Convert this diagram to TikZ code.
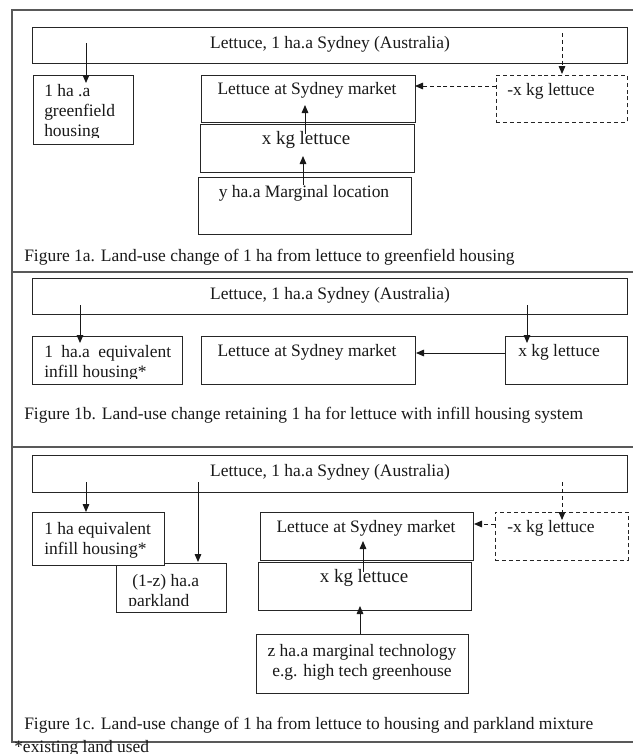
\documentclass[tikz,border=0pt]{standalone}
\usepackage{fontspec}
\setmainfont{Liberation Serif}
\usetikzlibrary{arrows.meta,fit}
\begin{document}
\begin{tikzpicture}[x=0.75pt,y=-0.75pt,
  box/.style={draw=black!85,line width=0.75pt,fill=white,inner sep=0pt},
  dbox/.style={box,dash pattern=on 3pt off 2.2pt},
  frm/.style={draw=black!65,line width=0.9pt},
  txt/.style={inner sep=0pt,font=\fontsize{13.1}{15}\selectfont,text=black!90},
  big/.style={txt,font=\fontsize{14.2}{17}\selectfont},
  arr/.style={-{Triangle[length=6pt,width=5pt]},line width=0.65pt,draw=black!90},
  darr/.style={arr,dash pattern=on 3pt off 2.2pt}]
\useasboundingbox (0,0) rectangle (633,754);

% frame
\draw[frm] (633,10) -- (12,10) -- (12,742) -- (633,742);
\draw[frm] (12,272) -- (633,272);
\draw[frm] (12,447) -- (633,447);

% ---------------- Figure 1a ----------------
\node[box,fit={(32,27)(627,63)}] (top1a) {};
\node[txt] (ttop1a) at (330,44) {Lettuce, 1 ha.a Sydney (Australia)};
\node[box,fit={(33,75)(133,144)}] (gf1a) {};
\begin{scope}
\clip (33,75) rectangle (133,137);
\node[txt,align=left,anchor=north west] (tgf1a) at (44,84) {1 ha .a\\greenfield\\housing};
\end{scope}
\node[box,fit={(201,75)(415,122)}] (mkt1a) {};
\node[txt] (tmkt1a) at (307,90) {Lettuce at Sydney market};
\node[box,fit={(200,124)(414,172)}] (xk1a) {};
\node[big] (txk1a) at (306,140) {x kg lettuce};
\node[box,fit={(198,177)(411,234)}] (yh1a) {};
\node[txt] (tyh1a) at (304,193) {y ha.a Marginal location};
\node[dbox,fit={(496,75)(627,122)}] (mx1a) {};
\node[txt,anchor=west] (tmx1a) at (507,91) {-x kg lettuce};
\node[txt,anchor=west] (cap1a) at (24,257) {Figure 1a. Land-use change of 1 ha from lettuce to greenfield housing};

\coordinate (a1s) at (86,43);  \coordinate (a1e) at (86,83);
\coordinate (a2s) at (562,33); \coordinate (a2e) at (562,74);
\coordinate (a3s) at (496,86); \coordinate (a3e) at (415,86);
\coordinate (a4s) at (305,134); \coordinate (a4e) at (305,105);
\coordinate (a5s) at (303,185); \coordinate (a5e) at (303,156);
\draw[arr] (a1s) -- (a1e);
\draw[darr] (a2s) -- (a2e);
\draw[darr] (a3s) -- (a3e);
\draw[arr] (a4s) -- (a4e);
\draw[arr] (a5s) -- (a5e);

% ---------------- Figure 1b ----------------
\node[box,fit={(32,278)(627,314)}] (top1b) {};
\node[txt] (ttop1b) at (330,295) {Lettuce, 1 ha.a Sydney (Australia)};
\node[box,fit={(32,336)(182,384)}] (inf1b) {};
\begin{scope}
\clip (32,336) rectangle (182,378);
\node[txt,align=left,anchor=north west] (tinf1b) at (44,345) {1\hspace{3pt} ha.a\hspace{3pt} equivalent\\infill housing*};
\end{scope}
\node[box,fit={(201,336)(415,384)}] (mkt1b) {};
\node[txt] (tmkt1b) at (307,352) {Lettuce at Sydney market};
\node[box,fit={(505,336)(627,384)}] (xk1b) {};
\node[txt,anchor=west] (txk1b) at (518,352) {x kg lettuce};
\node[txt,anchor=west] (cap1b) at (24,415) {Figure 1b. Land-use change retaining 1 ha for lettuce with infill housing system};

\coordinate (b1s) at (80,305);  \coordinate (b1e) at (80,343);
\coordinate (b2s) at (527,305); \coordinate (b2e) at (527,343);
\coordinate (b3s) at (505,353); \coordinate (b3e) at (416,353);
\draw[arr] (b1s) -- (b1e);
\draw[arr] (b2s) -- (b2e);
\draw[arr] (b3s) -- (b3e);

% ---------------- Figure 1c ----------------
\node[box,fit={(32,455)(627,492)}] (top1c) {};
\node[txt] (ttop1c) at (330,472) {Lettuce, 1 ha.a Sydney (Australia)};
\node[box,fit={(116,563)(226,612)}] (pk1c) {};
\begin{scope}
\clip (116,563) rectangle (226,605);
\node[txt,align=left,anchor=north west] (tpk1c) at (128,574) {\hspace{3pt}(1-z) ha.a\\parkland};
\end{scope}
\node[box,fit={(32,512)(164,565)}] (inf1c) {};
\node[txt,align=left,anchor=north west] (tinf1c) at (44,522) {1 ha equivalent\\infill housing*};
\node[box,fit={(260,512)(473,560)}] (mkt1c) {};
\node[txt] (tmkt1c) at (366,528) {Lettuce at Sydney market};
\node[box,fit={(258,562)(471,610)}] (xk1c) {};
\node[big] (txk1c) at (364,578) {x kg lettuce};
\node[box,fit={(256,634)(468,693)}] (zh1c) {};
\node[txt,align=center,anchor=north] (tzh1c) at (362,644) {z ha.a marginal technology\\e.g. high tech greenhouse};
\node[dbox,fit={(495,512)(628,560)}] (mx1c) {};
\node[txt,anchor=west] (tmx1c) at (507,528) {-x kg lettuce};
\node[txt,anchor=west] (cap1c) at (24,725) {Figure 1c. Land-use change of 1 ha from lettuce to housing and parkland mixture};
\node[txt,anchor=west] (foot) at (14,748) {*existing land used};

\coordinate (c1s) at (86,482);  \coordinate (c1e) at (86,512);
\coordinate (c2s) at (198,482); \coordinate (c2e) at (198,562);
\coordinate (c3s) at (562,482); \coordinate (c3e) at (562,520);
\coordinate (c4s) at (495,524); \coordinate (c4e) at (474,524);
\coordinate (c5s) at (363,572); \coordinate (c5e) at (363,541);
\coordinate (c6s) at (360,634); \coordinate (c6e) at (360,606);
\draw[arr] (c1s) -- (c1e);
\draw[arr] (c2s) -- (c2e);
\draw[darr] (c3s) -- (c3e);
\draw[darr] (c4s) -- (c4e);
\draw[arr] (c5s) -- (c5e);
\draw[arr] (c6s) -- (c6e);
\end{tikzpicture}
\end{document}
